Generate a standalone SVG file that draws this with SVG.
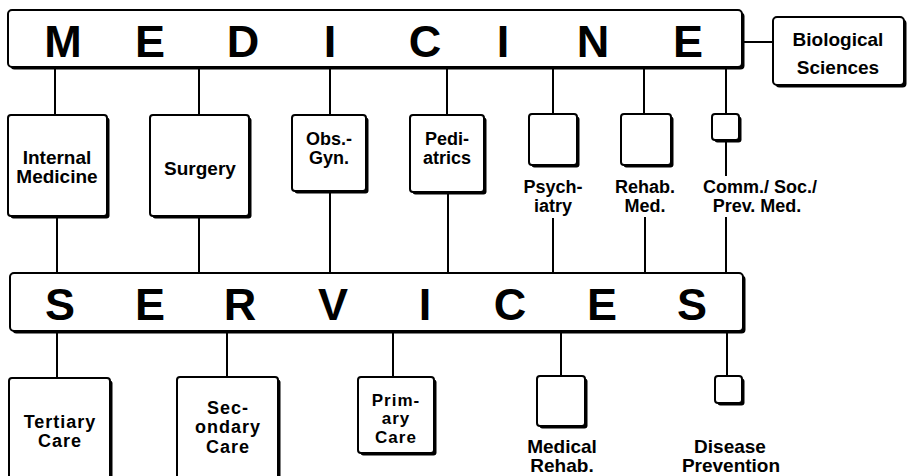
<svg xmlns="http://www.w3.org/2000/svg" width="910" height="476" viewBox="0 0 910 476">
<style>
.bg{fill:#fff}
.sh{fill:#000}
.bx{fill:#fff;stroke:#000;stroke-width:2}
.ln{stroke:#000;stroke-width:2;fill:none}
text{font-family:"Liberation Sans",Arial,sans-serif;font-weight:bold;fill:#000}
.big{font-size:45px;text-anchor:middle}
.t{font-size:19px;text-anchor:middle}
.tm{font-size:18px;text-anchor:middle}
.ts{font-size:18px;text-anchor:middle;letter-spacing:1px}
.tp{font-size:17px;text-anchor:middle;letter-spacing:1px}
</style>
<rect class="bg" x="0" y="0" width="910" height="476"/>
<g id="connectors">
<line class="ln" x1="742" y1="42" x2="773" y2="42"/>
<line class="ln" x1="55" y1="67" x2="55" y2="115"/>
<line class="ln" x1="199" y1="67" x2="199" y2="115"/>
<line class="ln" x1="330" y1="67" x2="330" y2="115"/>
<line class="ln" x1="447" y1="67" x2="447" y2="115"/>
<line class="ln" x1="553" y1="67" x2="553" y2="114"/>
<line class="ln" x1="644" y1="67" x2="644" y2="114"/>
<line class="ln" x1="726" y1="67" x2="726" y2="114"/>
<line class="ln" x1="57" y1="216" x2="57" y2="273"/>
<line class="ln" x1="199" y1="216" x2="199" y2="273"/>
<line class="ln" x1="330" y1="191" x2="330" y2="273"/>
<line class="ln" x1="448" y1="192" x2="448" y2="273"/>
<line class="ln" x1="553" y1="218" x2="553" y2="273"/>
<line class="ln" x1="645" y1="217" x2="645" y2="273"/>
<line class="ln" x1="726" y1="140" x2="726" y2="176"/>
<line class="ln" x1="726" y1="217" x2="726" y2="273"/>
<line class="ln" x1="57" y1="331" x2="57" y2="378"/>
<line class="ln" x1="227" y1="331" x2="227" y2="377"/>
<line class="ln" x1="393" y1="331" x2="393" y2="377"/>
<line class="ln" x1="561" y1="331" x2="561" y2="376"/>
<line class="ln" x1="727" y1="331" x2="727" y2="376"/>
</g>
<g id="medicine">
<rect class="sh" x="10.5" y="12.5" width="734" height="57" rx="4"/>
<rect class="bx" x="8" y="10" width="734" height="57" rx="4"/>
<text class="big" x="63" y="57">M</text>
<text class="big" x="150" y="57">E</text>
<text class="big" x="243" y="57">D</text>
<text class="big" x="330" y="57">I</text>
<text class="big" x="425" y="57">C</text>
<text class="big" x="503" y="57">I</text>
<text class="big" x="593" y="57">N</text>
<text class="big" x="688" y="57">E</text>
</g>
<g id="biological-sciences">
<rect class="sh" x="775.5" y="19.5" width="131" height="68" rx="4"/>
<rect class="bx" x="773" y="17" width="131" height="68" rx="4"/>
<text class="t" x="838" y="46">Biological</text>
<text class="t" x="838" y="74">Sciences</text>
</g>
<g id="internal-medicine">
<rect class="sh" x="10.5" y="117.5" width="99" height="101" rx="3"/>
<rect class="bx" x="8" y="115" width="99" height="101" rx="3"/>
<text class="t" x="57" y="164">Internal</text>
<text class="t" x="57" y="183">Medicine</text>
</g>
<g id="surgery">
<rect class="sh" x="152.5" y="117.5" width="99" height="101" rx="3"/>
<rect class="bx" x="150" y="115" width="99" height="101" rx="3"/>
<text class="t" x="200" y="175">Surgery</text>
</g>
<g id="obs-gyn">
<rect class="sh" x="294.5" y="117.5" width="74" height="76" rx="3"/>
<rect class="bx" x="292" y="115" width="74" height="76" rx="3"/>
<text class="tm" x="329" y="145">Obs.-</text>
<text class="tm" x="329" y="164">Gyn.</text>
</g>
<g id="pediatrics">
<rect class="sh" x="412.5" y="117.5" width="74" height="77" rx="3"/>
<rect class="bx" x="410" y="115" width="74" height="77" rx="3"/>
<text class="tm" x="447" y="145">Pedi-</text>
<text class="tm" x="447" y="164">atrics</text>
</g>
<g id="psychiatry">
<rect class="sh" x="531.5" y="116.5" width="48" height="51" rx="3"/>
<rect class="bx" x="529" y="114" width="48" height="51" rx="3"/>
<text class="tm" x="553" y="193">Psych-</text>
<text class="tm" x="553" y="212">iatry</text>
</g>
<g id="rehab-med">
<rect class="sh" x="623.5" y="116.5" width="50" height="51" rx="3"/>
<rect class="bx" x="621" y="114" width="50" height="51" rx="3"/>
<text class="tm" x="645" y="193">Rehab.</text>
<text class="tm" x="645" y="212">Med.</text>
</g>
<g id="comm-soc-prev-med">
<rect class="sh" x="714.5" y="116.5" width="27" height="26" rx="3"/>
<rect class="bx" x="712" y="114" width="27" height="26" rx="3"/>
<text class="tm" x="760" y="193">Comm./ Soc./</text>
<text class="tm" x="757" y="212">Prev. Med.</text>
</g>
<g id="services">
<rect class="sh" x="12.5" y="275.5" width="733" height="58" rx="4"/>
<rect class="bx" x="10" y="273" width="733" height="58" rx="4"/>
<text class="big" x="60" y="320">S</text>
<text class="big" x="150" y="320">E</text>
<text class="big" x="240" y="320">R</text>
<text class="big" x="333" y="320">V</text>
<text class="big" x="425" y="320">I</text>
<text class="big" x="510" y="320">C</text>
<text class="big" x="602" y="320">E</text>
<text class="big" x="692" y="320">S</text>
</g>
<g id="tertiary-care">
<rect class="sh" x="11.5" y="380.5" width="101" height="110" rx="3"/>
<rect class="bx" x="9" y="378" width="101" height="110" rx="3"/>
<text class="ts" x="60" y="428">Tertiary</text>
<text class="ts" x="60" y="447">Care</text>
</g>
<g id="secondary-care">
<rect class="sh" x="179.5" y="379.5" width="101" height="110" rx="3"/>
<rect class="bx" x="177" y="377" width="101" height="110" rx="3"/>
<text class="ts" x="228" y="414">Sec-</text>
<text class="ts" x="228" y="433">ondary</text>
<text class="ts" x="228" y="453">Care</text>
</g>
<g id="primary-care">
<rect class="sh" x="360.5" y="379.5" width="76" height="76" rx="3"/>
<rect class="bx" x="358" y="377" width="76" height="76" rx="3"/>
<text class="tp" x="396" y="406">Prim-</text>
<text class="tp" x="396" y="424">ary</text>
<text class="tp" x="396" y="443">Care</text>
</g>
<g id="medical-rehab">
<rect class="sh" x="539.5" y="378.5" width="48" height="50" rx="3"/>
<rect class="bx" x="537" y="376" width="48" height="50" rx="3"/>
<text class="t" x="562" y="453">Medical</text>
<text class="t" x="562" y="472">Rehab.</text>
</g>
<g id="disease-prevention">
<rect class="sh" x="717.5" y="378.5" width="27" height="27" rx="3"/>
<rect class="bx" x="715" y="376" width="27" height="27" rx="3"/>
<text class="t" x="730" y="453">Disease</text>
<text class="t" x="731" y="472">Prevention</text>
</g>
</svg>
